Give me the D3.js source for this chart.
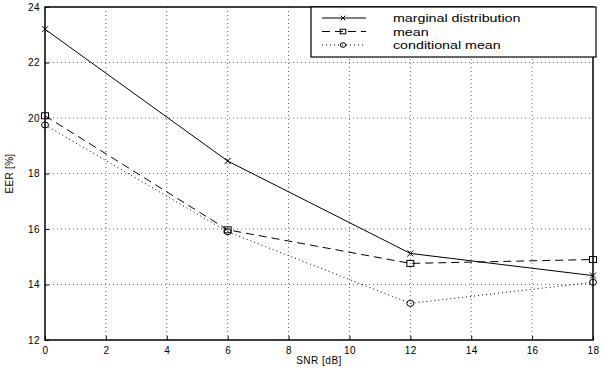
<!DOCTYPE html>
<html>
<head>
<meta charset="utf-8">
<script src="https://cdn.jsdelivr.net/npm/d3@7"></script>
<style>
  body { margin: 0; background: #fff; }
  text { font-family: "Liberation Sans", Arial, sans-serif; fill: #000; }
</style>
</head>
<body>
<div id="chart"></div>
<script>
const snr = [0, 6, 12, 18];
const marginal = [23.2, 18.45, 15.12, 14.32];
const meanVals = [20.08, 15.97, 14.76, 14.9];
const condMean = [19.75, 15.9, 13.32, 14.08];
const xTicks = [0, 2, 4, 6, 8, 10, 12, 14, 16, 18];
const yTicks = [12, 14, 16, 18, 20, 22, 24];
const seriesNames = ['marginal distribution', 'mean', 'conditional mean'];

const W = 606, H = 369;
const margin = {top: 7, right: 13, bottom: 29, left: 45};
const width = W - margin.left - margin.right;
const height = H - margin.top - margin.bottom;

const svg = d3.select('#chart').append('svg')
  .attr('width', W).attr('height', H);
const g = svg.append('g')
  .attr('transform', 'translate(' + margin.left + ',' + margin.top + ')');

const x = d3.scaleLinear().domain([0, 18]).range([0, width]);
const y = d3.scaleLinear().domain([12, 24]).range([height, 0]);

// grid
g.append('g').selectAll('line').data(xTicks.slice(1, -1)).join('line')
  .attr('x1', d => x(d)).attr('x2', d => x(d))
  .attr('y1', 0).attr('y2', height)
  .attr('stroke', '#000').attr('stroke-width', 0.6)
  .attr('stroke-dasharray', '1,3');
g.append('g').selectAll('line').data(yTicks.slice(1, -1)).join('line')
  .attr('y1', d => y(d)).attr('y2', d => y(d))
  .attr('x1', 0).attr('x2', width)
  .attr('stroke', '#000').attr('stroke-width', 0.6)
  .attr('stroke-dasharray', '1,3');

// axes
const xAxis = g.append('g').attr('transform', 'translate(0,' + height + ')')
  .call(d3.axisBottom(x).tickValues(xTicks).tickSize(-4).tickPadding(7));
const yAxis = g.append('g')
  .call(d3.axisLeft(y).tickValues(yTicks).tickSize(-4).tickPadding(5));
[xAxis, yAxis].forEach(a => {
  a.select('.domain').remove();
  a.selectAll('text').style('font-size', '10px').style('letter-spacing', '0.4px');
  a.selectAll('line').attr('stroke-width', 1);
});
g.append('rect').attr('width', width).attr('height', height)
  .attr('fill', 'none').attr('stroke', '#000').attr('stroke-width', 1.5);

// lines
const series = [
  {vals: marginal, dash: null, marker: 'x'},
  {vals: meanVals, dash: '8,5', marker: 'sq'},
  {vals: condMean, dash: '1,3', marker: 'o'}
];
const line = d3.line().x((d, i) => x(snr[i])).y(d => y(d));

function drawMarker(sel, type, cx, cy, r) {
  if (type === 'x') {
    sel.append('path').attr('d', `M${cx-r},${cy-r}L${cx+r},${cy+r}M${cx-r},${cy+r}L${cx+r},${cy-r}`)
      .attr('stroke', '#000').attr('stroke-width', 1);
  } else if (type === 'sq') {
    sel.append('rect').attr('x', cx - r - 0.5).attr('y', cy - r).attr('width', 2 * r + 1).attr('height', 2 * r)
      .attr('fill', 'none').attr('stroke', '#000').attr('stroke-width', 1);
  } else {
    sel.append('ellipse').attr('cx', cx).attr('cy', cy).attr('rx', r + 0.5).attr('ry', r)
      .attr('fill', 'none').attr('stroke', '#000').attr('stroke-width', 1);
  }
}

series.forEach(s => {
  g.append('path').datum(s.vals).attr('d', line)
    .attr('fill', 'none').attr('stroke', '#000').attr('stroke-width', 1)
    .attr('stroke-dasharray', s.dash);
  s.vals.forEach((v, i) => drawMarker(g, s.marker, x(snr[i]), y(v), 3));
});

// legend
const leg = svg.append('g');
leg.append('rect').attr('x', 311).attr('y', 7).attr('width', 285).attr('height', 50)
  .attr('fill', '#fff').attr('stroke', '#000').attr('stroke-width', 1.2);
series.forEach((s, i) => {
  const ly = 18 + i * 13.5;
  leg.append('line').attr('x1', 322).attr('x2', 366).attr('y1', ly).attr('y2', ly)
    .attr('stroke', '#000').attr('stroke-width', 1).attr('stroke-dasharray', s.dash);
  drawMarker(leg, s.marker, 343, ly, 2.3);
  leg.append('text')
    .attr('transform', 'translate(393,' + (ly + 4) + ') scale(1.24,1)')
    .style('font-size', '11.5px').text(seriesNames[i]);
});

// labels
svg.append('text').attr('x', margin.left + width / 2).attr('y', 364)
  .attr('text-anchor', 'middle').style('font-size', '10px').style('letter-spacing', '0.5px').text('SNR [dB]');
svg.append('text').attr('transform', 'translate(13,' + (margin.top + height / 2) + ') rotate(-90)')
  .attr('text-anchor', 'middle').style('font-size', '10px').style('letter-spacing', '0.3px').text('EER [%]');
</script>
</body>
</html>
